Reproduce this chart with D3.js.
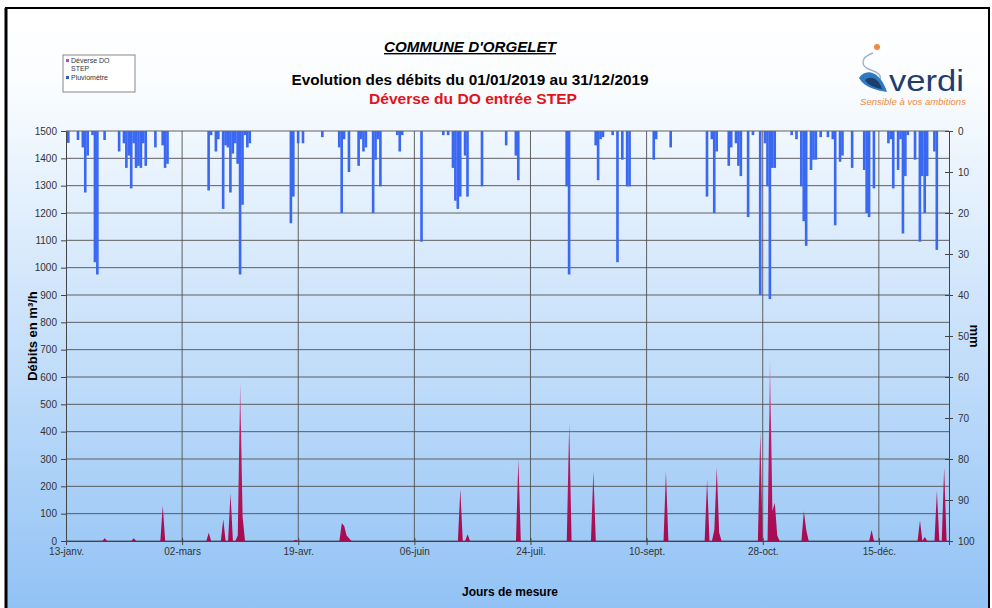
<!DOCTYPE html>
<html>
<head>
<meta charset="utf-8">
<script src="https://cdn.jsdelivr.net/npm/d3@7"></script>
<style>
  body { margin: 0; background: #fff; }
  text { font-family: "Liberation Sans", Arial, sans-serif; }
  .tick text { fill: #333; font-size: 10px; }
  .axis path, .axis line { stroke: #444; }
</style>
</head>
<body>
<svg id="chart" width="992" height="608"></svg>
<script>

// x axis ticks (every 48 days, as in the sheet)
var xTickDates = ["2019-01-13", "2019-03-02", "2019-04-19", "2019-06-06", "2019-07-24", "2019-09-10", "2019-10-28", "2019-12-15"];
var xTickLabels = ["13-janv.", "02-mars", "19-avr.", "06-juin", "24-juil.", "10-sept.", "28-oct.", "15-déc."];
var xDomain = ["2019-01-13", "2020-01-13"];

var leftTicks = [0, 100, 200, 300, 400, 500, 600, 700, 800, 900, 1000, 1100, 1200, 1300, 1400, 1500];
var rightTicks = [0, 10, 20, 30, 40, 50, 60, 70, 80, 90, 100];

var seriesNames = ["Déverse DO STEP", "Pluviomètre"];

// Pluviomètre (mm / jour)
var rainDates = [
  "2019-01-14","2019-01-18","2019-01-20","2019-01-21","2019-01-22","2019-01-24","2019-01-25","2019-01-26","2019-01-29",
  "2019-02-04","2019-02-06","2019-02-07","2019-02-08","2019-02-09","2019-02-10","2019-02-11","2019-02-12","2019-02-13","2019-02-14","2019-02-15","2019-02-19","2019-02-22","2019-02-23","2019-02-24",
  "2019-03-13","2019-03-14","2019-03-16","2019-03-17","2019-03-19","2019-03-20","2019-03-21","2019-03-22","2019-03-23","2019-03-24","2019-03-25","2019-03-26","2019-03-27","2019-03-28","2019-03-29","2019-03-30",
  "2019-04-16","2019-04-17","2019-04-19","2019-04-21","2019-04-29",
  "2019-05-06","2019-05-07","2019-05-08","2019-05-10","2019-05-14","2019-05-15","2019-05-16","2019-05-17","2019-05-20","2019-05-21","2019-05-22","2019-05-23","2019-05-30","2019-05-31",
  "2019-06-01","2019-06-09","2019-06-18","2019-06-20","2019-06-22","2019-06-23","2019-06-24","2019-06-25","2019-06-27","2019-06-28",
  "2019-07-04","2019-07-14","2019-07-18","2019-07-19",
  "2019-08-08","2019-08-09","2019-08-20","2019-08-21","2019-08-22","2019-08-23","2019-08-27","2019-08-29","2019-08-31",
  "2019-09-02","2019-09-03","2019-09-13","2019-09-14","2019-09-20",
  "2019-10-05","2019-10-07","2019-10-08","2019-10-09","2019-10-14","2019-10-15","2019-10-17","2019-10-18","2019-10-19","2019-10-22","2019-10-24","2019-10-27","2019-10-29","2019-10-30","2019-10-31",
  "2019-11-01","2019-11-02","2019-11-09","2019-11-11","2019-11-13","2019-11-14","2019-11-15","2019-11-17","2019-11-18","2019-11-19","2019-11-21","2019-11-24","2019-11-26","2019-11-27","2019-11-29","2019-11-30",
  "2019-12-04","2019-12-09","2019-12-10","2019-12-11","2019-12-13","2019-12-19","2019-12-20","2019-12-21","2019-12-23","2019-12-24","2019-12-25","2019-12-26","2019-12-27","2019-12-30",
  "2020-01-01","2020-01-02","2020-01-03","2020-01-04","2020-01-07","2020-01-08"
];
var rainMm = [
  2.9, 2.2, 4, 15, 6, 1, 32, 35, 2.2,
  5, 3, 9, 6, 14, 3, 9, 8.5, 9, 3, 8.5, 4, 3.5, 9, 8,
  14.5, 1, 5, 2, 19, 3.5, 4, 15, 5.5, 3, 8, 35, 18, 1, 4, 3,
  22.5, 16, 3, 3, 1.5,
  4, 20, 2, 10, 8.5, 2, 5, 4, 20, 7, 2, 13.5, 1, 5,
  1, 27, 1, 1, 9, 17, 19, 16, 6, 16,
  13.5, 3.5, 6, 12,
  13.5, 35, 3.5, 12, 2, 1.5, 1, 32, 7,
  13.5, 13.5, 7, 2, 4,
  16, 2, 20, 5, 8.5, 4, 3, 8.5, 11, 21, 1, 40, 3, 13.5, 41,
  9, 9, 1, 2, 13.5, 22, 28, 9.5, 7, 7, 1.5, 1.5, 2, 23, 7.5, 6,
  9, 9.5, 20, 21, 14, 3, 2, 14, 9.5, 2, 25, 11, 1, 7,
  27, 11, 20, 11, 5, 29
];

// Déverse DO STEP (m3/h), jours avec déversement
var flowDates = [
  "2019-01-29","2019-02-10","2019-02-22","2019-03-13","2019-03-19","2019-03-22","2019-03-25","2019-03-26","2019-03-27",
  "2019-04-18","2019-05-07","2019-05-08","2019-05-09","2019-05-10","2019-06-25","2019-06-28","2019-07-19","2019-08-09",
  "2019-08-19","2019-09-18","2019-10-05","2019-10-08","2019-10-09","2019-10-10","2019-10-27","2019-10-31","2019-11-01",
  "2019-11-02","2019-11-03","2019-11-14","2019-11-15","2019-12-12","2020-01-01","2020-01-03","2020-01-08","2020-01-11"
];
var flowValues = [
  10, 10, 130, 30, 80, 175, 20, 580, 90,
  5, 65, 55, 20, 10, 190, 25, 300, 430,
  255, 255, 225, 40, 270, 30, 400, 670, 110,
  140, 20, 110, 40, 40, 75, 15, 185, 270
];

var W = 992, H = 608;
var plot = { left: 66, right: 949, top: 131, bottom: 541 };
var parse = d3.timeParse("%Y-%m-%d");

var svg = d3.select("#chart");
var defs = svg.append("defs");

var bg = defs.append("linearGradient").attr("id", "bg")
    .attr("x1", 0).attr("y1", 0).attr("x2", 0).attr("y2", 1);
bg.append("stop").attr("offset", "0%").attr("stop-color", "#ffffff");
bg.append("stop").attr("offset", "12%").attr("stop-color", "#fbfdff");
bg.append("stop").attr("offset", "100%").attr("stop-color", "#91c2f5");

var x = d3.scaleTime().domain(xDomain.map(parse)).range([plot.left, plot.right]);
var yL = d3.scaleLinear().domain([0, 1500]).range([plot.bottom, plot.top]);
var yR = d3.scaleLinear().domain([0, 100]).range([plot.top, plot.bottom]);

var pink = defs.append("linearGradient").attr("id", "pink")
    .attr("gradientUnits", "userSpaceOnUse")
    .attr("x1", 0).attr("y1", yL(0)).attr("x2", 0).attr("y2", yL(700));
pink.append("stop").attr("offset", "0%").attr("stop-color", "#a50c52");
pink.append("stop").attr("offset", "55%").attr("stop-color", "#c01a66");
pink.append("stop").attr("offset", "100%").attr("stop-color", "#e58ad6");

defs.append("clipPath").attr("id", "clip").append("rect")
    .attr("x", plot.left).attr("y", plot.top)
    .attr("width", plot.right - plot.left).attr("height", plot.bottom - plot.top);

// frame + background
svg.append("rect").attr("x", 6).attr("y", 8).attr("width", 983).attr("height", 602)
    .attr("fill", "url(#bg)").attr("stroke", "#000").attr("stroke-width", 2);
svg.append("line").attr("x1", 6).attr("x2", 6).attr("y1", 8).attr("y2", H)
    .attr("stroke", "#000").attr("stroke-width", 3);

// titles
svg.append("text").attr("x", 470).attr("y", 52).attr("text-anchor", "middle")
    .attr("font-size", 14).attr("font-weight", "bold").attr("font-style", "italic")
    .attr("text-decoration", "underline").attr("textLength", 172).attr("lengthAdjust", "spacingAndGlyphs")
    .text("COMMUNE D'ORGELET");
svg.append("text").attr("x", 470).attr("y", 85).attr("text-anchor", "middle")
    .attr("font-size", 14).attr("font-weight", "bold")
    .attr("textLength", 357).attr("lengthAdjust", "spacingAndGlyphs")
    .text("Evolution des débits du 01/01/2019 au 31/12/2019");
svg.append("text").attr("x", 473).attr("y", 104).attr("text-anchor", "middle")
    .attr("font-size", 14).attr("font-weight", "bold").attr("fill", "#e3131b")
    .attr("textLength", 208).attr("lengthAdjust", "spacingAndGlyphs")
    .text("Déverse du DO entrée STEP");

// legend
var lg = svg.append("g").attr("transform", "translate(63,55)");
lg.append("rect").attr("width", 72).attr("height", 37).attr("fill", "#fff").attr("stroke", "#888");
lg.append("rect").attr("x", 3).attr("y", 4).attr("width", 3).attr("height", 3).attr("fill", "#b050c0");
lg.append("text").attr("x", 8).attr("y", 8).attr("font-size", 7).attr("fill", "#333").text("Déverse DO");
lg.append("text").attr("x", 8).attr("y", 16).attr("font-size", 7).attr("fill", "#333").text("STEP");
lg.append("rect").attr("x", 3).attr("y", 21).attr("width", 3).attr("height", 3).attr("fill", "#3355cc");
lg.append("text").attr("x", 8).attr("y", 25).attr("font-size", 7).attr("fill", "#333").text(seriesNames[1]);

// logo
var logo = svg.append("g");
logo.append("circle").attr("cx", 877).attr("cy", 47).attr("r", 3).attr("fill", "#f08a3c");
logo.append("path").attr("d", "M873,53 C859,58 861,67 871,70 C878,72 882,76 880,80")
    .attr("fill", "none").attr("stroke", "#9fb2c9").attr("stroke-width", 1.4);
logo.append("path").attr("d", "M859,78 C865,68 880,70 887,92 C876,90 865,88 859,78 Z").attr("fill", "#2f78c2");
logo.append("path").attr("d", "M865,80 C871,75 879,79 882,89 C875,88 868,85 865,80 Z").attr("fill", "#1d3e6c");
logo.append("text").attr("x", 889).attr("y", 91).attr("font-size", 30).attr("fill", "#1f3e6e")
    .attr("textLength", 75).attr("lengthAdjust", "spacingAndGlyphs").text("verdi");
logo.append("text").attr("x", 860).attr("y", 105).attr("font-size", 8.5).attr("font-style", "italic")
    .attr("fill", "#ee8a3f").attr("textLength", 106).attr("lengthAdjust", "spacingAndGlyphs")
    .text("Sensible à vos ambitions");

// grid
var grid = svg.append("g").attr("stroke", "#505050").attr("stroke-width", 0.9);
grid.selectAll("line.h").data(leftTicks).enter().append("line")
    .attr("x1", plot.left).attr("x2", plot.right)
    .attr("y1", function(d) { return yL(d); }).attr("y2", function(d) { return yL(d); });
grid.selectAll("line.v").data(xTickDates.slice(1)).enter().append("line")
    .attr("y1", plot.top).attr("y2", plot.bottom)
    .attr("x1", function(d) { return x(parse(d)); }).attr("x2", function(d) { return x(parse(d)); });

// flow area, one point per day
var flowByDay = new Map();
flowDates.forEach(function(d, i) { flowByDay.set(d, flowValues[i]); });
var fmt = d3.timeFormat("%Y-%m-%d");
var days = d3.timeDay.range(x.domain()[0], d3.timeDay.offset(x.domain()[1], 1));
var flow = days.map(function(d) { return { date: d, v: flowByDay.get(fmt(d)) || 0 }; });

var area = d3.area()
    .x(function(d) { return x(d.date); })
    .y0(yL(0))
    .y1(function(d) { return yL(d.v); });

var chartG = svg.append("g").attr("clip-path", "url(#clip)");
chartG.append("path").datum(flow).attr("d", area).attr("fill", "url(#pink)");

// rain bars hanging from the top
var dayW = x(parse("2019-01-14")) - x(parse("2019-01-13"));
var rain = rainDates.map(function(d, i) { return { date: parse(d), v: rainMm[i] }; });
chartG.selectAll("rect.rain").data(rain).enter().append("rect")
    .attr("class", "rain")
    .attr("x", function(d) { return x(d.date) - dayW / 2 - 0.2; })
    .attr("y", yR(0))
    .attr("width", dayW + 0.2)
    .attr("height", function(d) { return yR(d.v) - yR(0); })
    .attr("fill", "#3a68f2");

// axes
var axL = svg.append("g").attr("class", "axis").attr("transform", "translate(" + plot.left + ",0)")
    .call(d3.axisLeft(yL).tickValues(leftTicks).tickSize(5).tickPadding(4).tickFormat(d3.format("d")));
var axR = svg.append("g").attr("class", "axis").attr("transform", "translate(" + plot.right + ",0)")
    .call(d3.axisRight(yR).tickValues(rightTicks).tickSize(4).tickPadding(5));
axR.selectAll(".tick line").attr("x1", -4);
var axB = svg.append("g").attr("class", "axis").attr("transform", "translate(0," + plot.bottom + ")")
    .call(d3.axisBottom(x).tickValues(xTickDates.map(parse)).tickSize(4).tickPadding(3)
        .tickFormat(function(d, i) { return xTickLabels[i]; }));
axB.selectAll(".tick line").attr("y1", -3);
svg.selectAll(".axis .domain").attr("stroke", "#333");

// axis titles
svg.append("text").attr("transform", "translate(37,336) rotate(-90)").attr("text-anchor", "middle")
    .attr("font-size", 13).attr("font-weight", "bold").text("Débits en m³/h");
svg.append("text").attr("transform", "translate(970,336) rotate(90)").attr("text-anchor", "middle")
    .attr("font-size", 13).attr("font-weight", "bold").text("mm");
svg.append("text").attr("x", 510).attr("y", 596).attr("text-anchor", "middle")
    .attr("font-size", 12).attr("font-weight", "bold").text("Jours de mesure");

</script>
</body>
</html>
